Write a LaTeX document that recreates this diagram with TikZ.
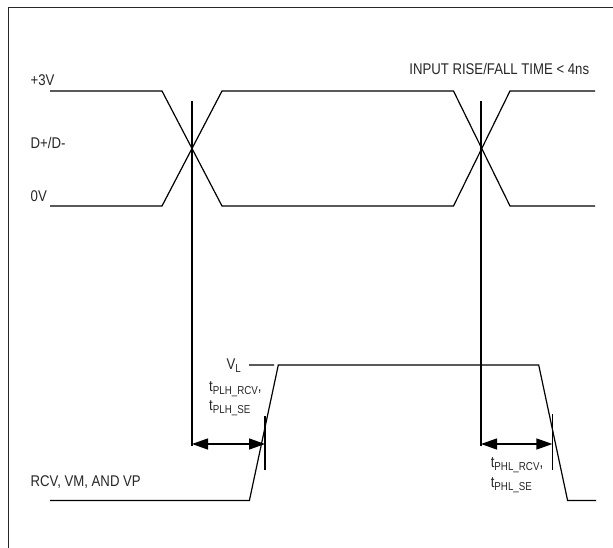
\documentclass[tikz,border=0pt]{standalone}
\usepackage{fontspec}
\setmainfont{Liberation Sans}[FakeStretch=0.85]
\usetikzlibrary{arrows.meta,positioning}
\newcommand{\lowsub}[1]{\raisebox{-3pt}{\fontsize{11.5}{12}\selectfont #1}}
\tikzset{
    %Define standard arrow tip
    >={Triangle[length=16pt,width=11pt]},
    %Define style for signal lines
    wave/.style={
           draw=black,
           line width=1.2pt,
           line join=miter},
    guide/.style={
           draw=black,
           line width=1.2pt},
    %Define style for labels
    lbl/.style={
           inner sep=0pt,
           text=black!85,
           font=\fontsize{15.5}{19}\selectfont},
    % Define arrow style
    pil/.style={
           <->,
           line width=1.3pt}
}
\begin{document}
\begin{tikzpicture}[x=1pt,y=-1pt]
\useasboundingbox (0,0) rectangle (613,548);
\draw[line width=1.5pt, black!85] (8.6,548) -- (8.6,7.7) -- (613,7.7);

% input levels
\coordinate (a0) at (50,91);   \coordinate (b0) at (50,206);
\coordinate (a1) at (162,91);  \coordinate (b1) at (162,206);
\coordinate (a2) at (222,206); \coordinate (b2) at (222,91);
\coordinate (a3) at (453.5,206); \coordinate (b3) at (453.5,91);
\coordinate (a4) at (510,91);  \coordinate (b4) at (510,206);
\coordinate (a5) at (595,91);  \coordinate (b5) at (595,206);

% receiver output
\coordinate (r0) at (50,500.5);
\coordinate (r1) at (249.4,500.5);
\coordinate (r2) at (278.3,365);
\coordinate (r3) at (538.7,365);
\coordinate (r4) at (567.6,500.5);
\coordinate (r5) at (596,500.5);

% timing marks
\coordinate (g1top) at (192,101);   \coordinate (g1bot) at (192,446);
\coordinate (g2top) at (481,101);   \coordinate (g2bot) at (481,446);
\coordinate (k1top) at (265,416);   \coordinate (k1bot) at (265,470);
\coordinate (k2top) at (552.4,414); \coordinate (k2bot) at (552.4,470);
\coordinate (m1l) at (192,444);     \coordinate (m1r) at (265,444);
\coordinate (m2l) at (481,444);     \coordinate (m2r) at (552.4,444);
\coordinate (vl0) at (249,365);     \coordinate (vl1) at (274,365);

\node[lbl, anchor=base west] (plus3) at (30.5,86) {+3V};
\node[lbl, anchor=base west] (ddm) at (30.5,149) {D+/D-};
\node[lbl, anchor=base west] (zero) at (30.5,201.5) {0V};
\node[lbl, anchor=base east] (rise) at (589.3,74.3) {INPUT RISE/FALL TIME < 4ns};
\node[lbl, anchor=base east] (vl) at (241,369) {V\lowsub{L}};
\node[lbl, anchor=base west] (plhrcv) at (209,391) {t\lowsub{PLH\_RCV},};
\node[lbl, anchor=base west] (plhse) at (209,410) {t\lowsub{PLH\_SE}};
\node[lbl, anchor=base west] (phlrcv) at (490.6,467) {t\lowsub{PHL\_RCV},};
\node[lbl, anchor=base west] (phlse) at (490.6,487) {t\lowsub{PHL\_SE}};
\node[lbl, anchor=base west] (rcv) at (30.5,486) {RCV, VM, AND VP};

\path[wave]
	(a0) -- (a1) -- (a2) -- (a3) -- (a4) -- (a5)
	(b0) -- (b1) -- (b2) -- (b3) -- (b4) -- (b5)
	(r0) -- (r1) -- (r2) -- (r3) -- (r4) -- (r5)
	(vl0) -- (vl1);
\path[guide]
	(g1top) -- (g1bot)
	(g2top) -- (g2bot)
	(k1top) -- (k1bot)
	(k2top) -- (k2bot);
\draw[pil] (m1l) -- (m1r);
\draw[pil] (m2l) -- (m2r);
\end{tikzpicture}
\end{document}
